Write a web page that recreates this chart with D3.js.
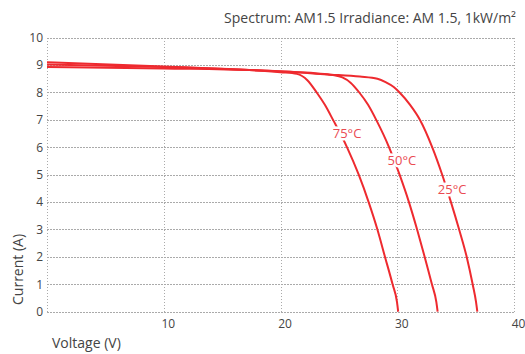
<!DOCTYPE html>
<html><head><meta charset="utf-8">
<script src="https://cdn.jsdelivr.net/npm/d3@7"></script>
<style>
html,body{margin:0;padding:0;background:#fff;}
text{font-family:"Open Sans","Noto Sans",sans-serif;}
</style></head>
<body>
<svg id="chart" width="525" height="354"></svg>
<script>
const title = "Spectrum: AM1.5 Irradiance: AM 1.5, 1kW/m\u00B2";
const xTicks = [10, 20, 30, 40];
const yTicks = [0,1,2,3,4,5,6,7,8,9,10];
const seriesNames = ["25°C", "50°C", "75°C"];
const curve25 = [[0,8.93],[10,8.88],[20,8.78],[24,8.66],[26.8,8.58],[28.3,8.5],[29.0,8.38],[29.7,8.2],[30.2,8.0],[31.1,7.55],[31.95,7.0],[33.0,6.0],[33.85,5.0],[34.6,4.0],[35.3,3.0],[35.95,2.0],[36.46,1.0],[36.75,0.35],[36.86,0]];
const curve50 = [[0,9.02],[10,8.93],[20,8.77],[23,8.7],[24.5,8.64],[25.3,8.55],[26.0,8.36],[26.75,8.0],[27.5,7.55],[28.2,7.0],[29.3,6.0],[30.2,5.0],[31.0,4.0],[31.7,3.0],[32.35,2.0],[32.97,1.0],[33.35,0.35],[33.46,0]];
const curve75 = [[0,9.1],[10,8.95],[20,8.74],[21.4,8.68],[22.3,8.45],[23.1,8.0],[23.8,7.55],[24.5,7.0],[25.7,6.0],[26.7,5.0],[27.55,4.0],[28.3,3.0],[28.95,2.0],[29.6,1.0],[29.98,0.35],[30.08,0]];
const seriesValues = [curve25, curve50, curve75];
const labelPos = [[34.7,4.47],[30.4,5.54],[25.7,6.52]];

const svg = d3.select("#chart");
const x = d3.scaleLinear().domain([0,40]).range([47,514]);
const y = d3.scaleLinear().domain([0,10]).range([311.7,37.7]);

const grid = svg.append("g").attr("stroke","#aaa").attr("stroke-width",1).attr("stroke-dasharray","1.5,1.5").attr("shape-rendering","crispEdges");
[0].concat(xTicks).forEach(v=>{
  grid.append("line").attr("x1",Math.round(x(v))+0.5).attr("x2",Math.round(x(v))+0.5).attr("y1",y(10)).attr("y2",y(0));
});
yTicks.forEach(v=>{
  grid.append("line").attr("x1",x(0)).attr("x2",x(40)).attr("y1",Math.round(y(v))+0.5).attr("y2",Math.round(y(v))+0.5);
});

const xAxis = d3.axisBottom(x).tickValues(xTicks).tickSize(0).tickPadding(8);
const gx = svg.append("g").attr("transform",`translate(4,${y(0)})`).call(xAxis);
gx.select(".domain").remove();
gx.selectAll("text").attr("font-size",12).attr("fill","#444").attr("font-family","Open Sans");

const yAxis = d3.axisLeft(y).tickValues(yTicks).tickSize(0).tickPadding(4);
const gy = svg.append("g").attr("transform",`translate(${x(0)},0)`).call(yAxis);
gy.select(".domain").remove();
gy.selectAll("text").attr("font-size",12).attr("fill","#444").attr("font-family","Open Sans");

const line = d3.line().x(d=>x(d[0])).y(d=>y(d[1])).curve(d3.curveMonotoneX);
svg.append("g").selectAll("path").data(seriesValues).join("path")
  .attr("d",line).attr("fill","none").attr("stroke","#ee2a2f").attr("stroke-width",2);

svg.append("g").selectAll("text").data(seriesNames).join("text")
  .attr("x",(d,i)=>x(labelPos[i][0])).attr("y",(d,i)=>y(labelPos[i][1]))
  .attr("text-anchor","middle").attr("dominant-baseline","central")
  .attr("font-size",13).attr("fill","#ea4a52")
  .attr("stroke","#fff").attr("stroke-width",5).attr("paint-order","stroke")
  .text(d=>d);

svg.append("text").attr("x",516).attr("y",23).attr("text-anchor","end")
  .attr("font-size",14).attr("fill","#444").text(title);
svg.append("text").attr("transform","translate(23,305) rotate(-90)").attr("text-anchor","start")
  .attr("font-size",14).attr("fill","#444").text("Current (A)");
svg.append("text").attr("x",52).attr("y",348)
  .attr("font-size",14).attr("fill","#444").text("Voltage (V)");
</script>
</body></html>
